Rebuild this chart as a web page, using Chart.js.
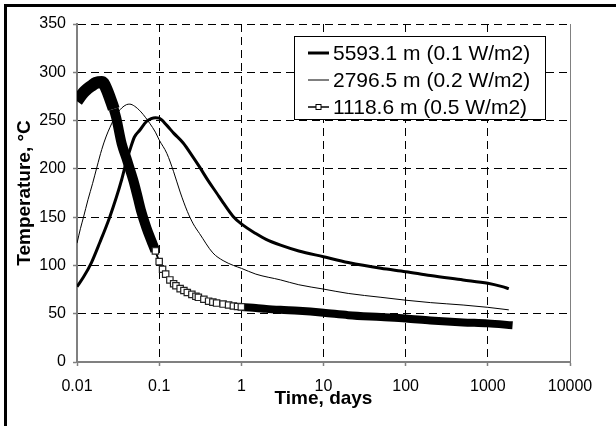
<!DOCTYPE html>
<html>
<head>
<meta charset="utf-8">
<script src="https://cdn.jsdelivr.net/npm/chart.js@4.4.1/dist/chart.umd.min.js"></script>
<style>
  html, body { margin: 0; padding: 0; background: #fff; }
  #wrap { width: 616px; height: 426px; }
</style>
</head>
<body>
<div id="wrap"><canvas id="tempChart" width="616" height="426"></canvas></div>
<script>
// axis ticks
const xTickValues = [0.01, 0.1, 1, 10, 100, 1000, 10000];
const xTickLabels = ['0.01', '0.1', '1', '10', '100', '1000', '10000'];

const seriesLabels = ['5593.1 m (0.1 W/m2)', '2796.5 m (0.2 W/m2)', '1118.6 m (0.5 W/m2)'];

// 5593.1 m
const s1Time = [0.01, 0.012, 0.015, 0.019, 0.025, 0.03, 0.035, 0.04, 0.045, 0.05, 0.058, 0.07, 0.08, 0.09, 0.1,
  0.124, 0.15, 0.195, 0.25, 0.31, 0.4, 0.5, 0.6, 0.79, 1, 1.5, 2, 3, 5, 10, 20, 50, 100, 200, 500, 1000, 1500, 1800];
const s1Temp = [78, 88, 103, 124, 150, 170, 189, 208, 222, 233, 240, 249, 252, 253, 252.5,
  245, 237, 227, 214, 202, 187, 175, 165, 151, 143, 133, 127, 121, 115, 109, 103, 97, 93.5, 89.5, 85, 81.5, 78, 76];

// 2796.5 m
const s2Time = [0.01, 0.011, 0.012, 0.0136, 0.0155, 0.0175, 0.02, 0.0225, 0.0252, 0.03, 0.035, 0.04, 0.044, 0.05,
  0.06, 0.077, 0.09, 0.1, 0.124, 0.15, 0.18, 0.22, 0.26, 0.31, 0.45, 0.6, 0.8, 1, 1.5, 3, 5, 10, 20, 50, 100, 200, 500, 1000, 1800];
const s2Temp = [123, 138, 150, 168, 185, 202, 220, 233, 243, 256, 263, 266.5, 267, 265,
  259, 247, 238, 230, 216, 197, 176, 156, 143, 133, 113, 105, 100, 97, 91, 85, 80, 75.5, 71, 67, 64, 61.5, 59, 56.6, 54];

// 1118.6 m
const s3Time = [0.01, 0.011, 0.012, 0.013, 0.015, 0.017, 0.02, 0.021, 0.023, 0.025, 0.028, 0.03, 0.035, 0.04, 0.045,
  0.05, 0.055, 0.06, 0.07, 0.08, 0.09, 0.1, 0.11, 0.12, 0.135, 0.15, 0.16, 0.18, 0.2, 0.22, 0.25, 0.28, 0.3, 0.35,
  0.4, 0.45, 0.5, 0.6, 0.7, 0.8, 0.9, 1, 1.5, 2, 3, 5, 10, 20, 50, 100, 200, 500, 1000, 2000];
const s3Temp = [270, 275, 279, 282, 286, 289, 290, 289, 282, 274, 262, 253, 226, 211, 197,
  184, 170, 157, 139, 126, 115, 104, 96, 91, 85, 81, 79, 76, 74, 72, 70, 68, 67, 65,
  63, 62, 61, 60, 59, 58, 57.5, 57, 56, 55, 54, 53, 51, 48.5, 46.5, 45, 43, 41, 40, 38];

const toPoints = (xs, ys) => xs.map((x, i) => ({ x: x, y: ys[i] }));

const FONT = '"Liberation Sans", Arial, sans-serif';
Chart.defaults.font.family = FONT;
Chart.defaults.color = '#000';

// sparse part of the 1118.6 m curve shows its square markers
const sparse = t => t >= 0.084 && t <= 1.0;

// outer frame, right plot edge and the boxed legend
const decor = {
  id: 'decor',
  beforeDraw(chart) {
    const ctx = chart.ctx;
    ctx.save();
    ctx.fillStyle = '#fff';
    ctx.fillRect(0, 0, chart.width, chart.height);
    ctx.fillStyle = '#000';
    ctx.fillRect(4, 4, chart.width - 4, 3);
    ctx.fillRect(4, 4, 3, chart.height - 4);
    ctx.restore();
  },
  afterDraw(chart) {
    const ctx = chart.ctx;
    const area = chart.chartArea;
    ctx.save();
    ctx.strokeStyle = '#808080';
    ctx.lineWidth = 1;
    ctx.beginPath();
    ctx.moveTo(Math.round(area.right) + 0.5, area.top);
    ctx.lineTo(Math.round(area.right) + 0.5, area.bottom);
    ctx.stroke();

    // legend
    const bx = area.left + 217, by = area.top + 12, bw = 251, bh = 83;
    ctx.fillStyle = '#fff';
    ctx.fillRect(bx, by, bw, bh);
    ctx.strokeStyle = '#000';
    ctx.strokeRect(bx + 0.5, by + 0.5, bw, bh);
    ctx.font = '21px ' + FONT;
    ctx.textBaseline = 'middle';
    ctx.fillStyle = '#000';
    chart.data.datasets.forEach((ds, i) => {
      const y = by + 17 + i * 27;
      ctx.strokeStyle = '#000';
      ctx.lineWidth = ds.legendWidth;
      ctx.beginPath();
      ctx.moveTo(bx + 14, y);
      ctx.lineTo(bx + 35, y);
      ctx.stroke();
      if (ds.legendMarker) {
        ctx.lineWidth = 1;
        ctx.fillStyle = '#fff';
        ctx.fillRect(bx + 22, y - 2.5, 5, 5);
        ctx.strokeRect(bx + 22, y - 2.5, 5, 5);
        ctx.fillStyle = '#000';
      }
      ctx.fillText(ds.label, bx + 39, y + 1);
    });
    ctx.restore();
  }
};

const ctx = document.getElementById('tempChart').getContext('2d');
new Chart(ctx, {
  type: 'scatter',
  data: {
    datasets: [
      {
        label: seriesLabels[0],
        data: toPoints(s1Time, s1Temp),
        showLine: true,
        cubicInterpolationMode: 'monotone',
        borderColor: '#000',
        borderWidth: 3,
        pointRadius: 0,
        legendWidth: 3
      },
      {
        label: seriesLabels[1],
        data: toPoints(s2Time, s2Temp),
        showLine: true,
        cubicInterpolationMode: 'monotone',
        borderColor: '#000',
        borderWidth: 1,
        pointRadius: 0,
        legendWidth: 1
      },
      {
        label: seriesLabels[2],
        data: toPoints(s3Time, s3Temp),
        showLine: true,
        cubicInterpolationMode: 'monotone',
        borderColor: '#000',
        borderJoinStyle: 'round',
        segment: {
          borderWidth: c => {
            const a = c.p0.parsed.x, b = c.p1.parsed.x;
            if (sparse(a) && sparse(b)) return 2;
            return a < 0.026 ? 12 : (a < 0.1 ? 10 : 8);
          }
        },
        pointStyle: 'rect',
        pointRadius: c => (c.raw && sparse(c.raw.x)) ? 4.5 : 0,
        pointBackgroundColor: '#fff',
        pointBorderColor: '#222',
        pointBorderWidth: 1.2,
        legendWidth: 1.5,
        legendMarker: true
      }
    ]
  },
  options: {
    responsive: false,
    animation: false,
    devicePixelRatio: 1,
    layout: { padding: { left: 0, right: 46, top: 24, bottom: 0 } },
    plugins: {
      legend: { display: false },
      tooltip: { enabled: false }
    },
    scales: {
      x: {
        type: 'logarithmic',
        min: 0.01,
        max: 10000,
        afterBuildTicks: axis => { axis.ticks = xTickValues.map(v => ({ value: v })); },
        afterFit: axis => { axis.height = 64; },
        ticks: {
          autoSkip: false,
          maxRotation: 0,
          padding: 11,
          font: { size: 16 },
          color: '#000',
          callback: (v, i) => xTickLabels[i]
        },
        grid: {
          color: c => (c.index === 0 || c.index === xTickValues.length - 1) ? 'rgba(0,0,0,0)' : '#000',
          lineWidth: 1,
          tickLength: 4,
          tickColor: '#808080',
          tickWidth: 1.5
        },
        border: { color: '#808080', width: 2, dash: [8, 5] },
        title: {
          display: true,
          text: 'Time, days',
          font: { size: 19, weight: 'bold' },
          padding: { top: 0, bottom: 16 }
        }
      },
      y: {
        min: 0,
        max: 350,
        afterFit: axis => { axis.width = 77; },
        ticks: {
          stepSize: 50,
          padding: 7,
          font: { size: 16 },
          color: '#000'
        },
        grid: {
          color: c => c.tick && c.tick.value === 0 ? 'rgba(0,0,0,0)' : '#000',
          lineWidth: 1,
          tickLength: 4,
          tickColor: '#808080',
          tickWidth: 1.5
        },
        border: { color: '#808080', width: 2, dash: [8, 5] },
        title: {
          display: true,
          text: 'Temperature, °C',
          font: { size: 19, weight: 'bold' },
          padding: { top: 13.6, bottom: 0 }
        }
      }
    }
  },
  plugins: [decor]
});
</script>
</body>
</html>
